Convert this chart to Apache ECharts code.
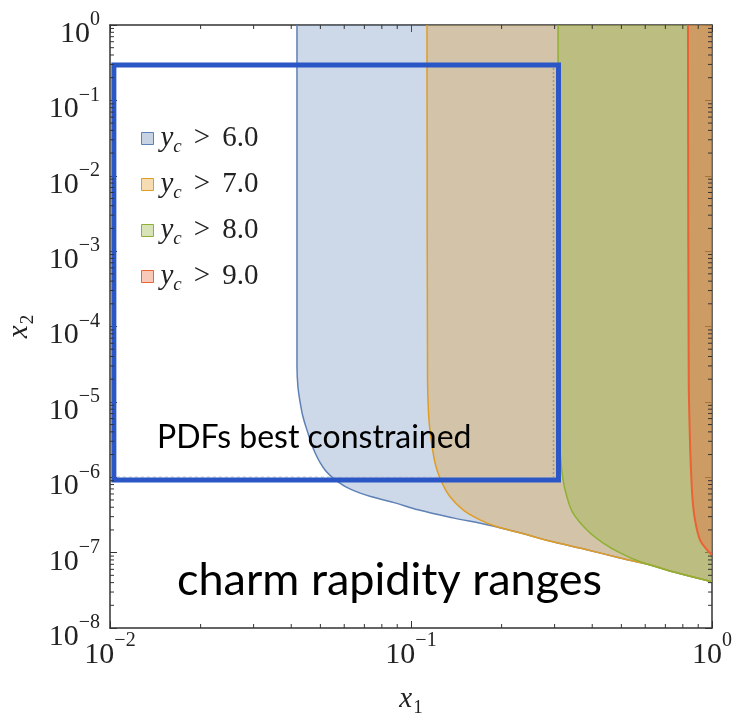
<!DOCTYPE html>
<html><head><meta charset="utf-8">
<script src="https://cdn.jsdelivr.net/npm/echarts@6/dist/echarts.min.js"></script>
<style>html,body{margin:0;padding:0;background:#fff}#c{width:734px;height:717px}</style>
</head><body><div id="c"></div>
<script>
// ---- data (x1, x2) ----
const seriesNames = ['y_c > 6.0', 'y_c > 7.0', 'y_c > 8.0', 'y_c > 9.0'];
const y6 = [[0.0418,1],[0.0418,3.0e-5],[0.0421,1.6e-5],[0.0428,1.0e-5],[0.0437,6.5e-6],[0.0451,4.25e-6],[0.0480,2.11e-6],[0.0518,1.25e-6],[0.0572,8.7e-7],[0.0637,6.8e-7],[0.0742,5.5e-7],[0.0885,4.57e-7],[0.1055,3.7e-7],[0.138,2.89e-7],[0.179,2.34e-7],[0.230,1.83e-7],[0.296,1.39e-7],[0.384,1.09e-7],[0.495,8.5e-8],[0.622,6.9e-8],[0.742,5.56e-8],[1,4.1e-8]];
const y7 = [[0.113,1],[0.1135,2.0e-5],[0.1142,8.0e-6],[0.1156,4.25e-6],[0.1202,1.55e-6],[0.1268,8.4e-7],[0.1348,5.5e-7],[0.1489,3.7e-7],[0.1695,2.72e-7],[0.193,2.2e-7],[0.230,1.83e-7],[0.296,1.39e-7],[0.384,1.09e-7],[0.495,8.5e-8],[0.622,6.9e-8],[0.742,5.56e-8],[1,4.1e-8]];
const y8 = [[0.308,1],[0.309,8.0e-6],[0.3126,2.31e-6],[0.320,9.2e-7],[0.330,5.4e-7],[0.345,3.37e-7],[0.384,2.0e-7],[0.434,1.35e-7],[0.495,9.9e-8],[0.577,7.55e-8],[0.742,5.56e-8],[1,4.1e-8]];
const y9 = [[0.832,1],[0.837,2.0e-5],[0.845,3.0e-6],[0.852,1.2e-6],[0.862,5.0e-7],[0.878,2.72e-7],[0.912,1.48e-7],[0.9625,1.09e-7],[1,9.3e-8]];
const xTickExps = [-2, -1, 0];
const yTickExps = [-8, -7, -6, -5, -4, -3, -2, -1, 0];
const minorMults = [2, 3, 4, 5, 6, 7, 8, 9];
const boxX1 = [0.0103, 0.309];
const boxX2 = [9.2e-7, 0.295];
const annotations = ['PDFs best constrained', 'charm rapidity ranges'];

// ---- styling ----
const lineColors = ['#5E81B5', '#E19C24', '#8FB032', '#EB6235'];
const fillColors = ['rgba(94,129,181,0.31)', 'rgba(225,156,36,0.32)', 'rgba(143,176,50,0.33)', 'rgba(235,98,53,0.36)'];
const legendFill = ['rgba(94,129,181,0.35)', 'rgba(225,156,36,0.35)', 'rgba(143,176,50,0.35)', 'rgba(235,98,53,0.35)'];
const SERIF = "'Liberation Serif','DejaVu Serif',serif";
const AX = '#333';
const TXT = '#222';

const xMin = Math.pow(10, xTickExps[0]), xMax = Math.pow(10, xTickExps[xTickExps.length - 1]);
const yMin = Math.pow(10, yTickExps[0]), yMax = Math.pow(10, yTickExps[yTickExps.length - 1]);

function powLabel(v) {
  const e = Math.round(Math.log10(v));
  return '{b|10}{s|' + (e < 0 ? '\u2212' + (-e) : e) + '}';
}
const powRich = {
  b: { fontFamily: SERIF, fontSize: 30, lineHeight: 30, padding: [9, 0, 9, 0], color: TXT, verticalAlign: 'top' },
  s: { fontFamily: SERIF, fontSize: 20, lineHeight: 20, color: TXT, verticalAlign: 'top' }
};
const subRich = {
  i: { fontFamily: SERIF, fontStyle: 'italic', fontSize: 29, lineHeight: 29, color: TXT, verticalAlign: 'top' },
  s: { fontFamily: SERIF, fontSize: 19, lineHeight: 19, padding: [14, 0, 0, 1], color: TXT, verticalAlign: 'top' }
};

const xMinorData = [], yMinorData = [];
xTickExps.slice(0, -1).forEach(e => minorMults.forEach(m => xMinorData.push([m * Math.pow(10, e), yMin])));
yTickExps.slice(0, -1).forEach(e => minorMults.forEach(m => yMinorData.push([xMin, m * Math.pow(10, e)])));

function tickLine(x1, y1, x2, y2) {
  return { type: 'line', shape: { x1, y1, x2, y2 }, style: { stroke: AX, lineWidth: 1 } };
}

function logAxis(pos, min, max, showLabel, extra) {
  return Object.assign({
    type: 'log', position: pos, min, max, interval: 1, logBase: 10,
    axisLine: { show: true, onZero: false, lineStyle: { color: AX, width: 1.5 } },
    axisTick: { show: true, inside: true, length: 7, lineStyle: { color: AX, width: 1 } },
    minorTick: { show: false },
    splitLine: { show: false },
    axisLabel: { show: showLabel, formatter: powLabel, rich: powRich, margin: 3 }
  }, extra || {});
}

const regionData = [y6, y7, y8, y9];
const regionSeries = regionData.map((d, i) => ({
  type: 'line', name: seriesNames[i], data: d, xAxisIndex: 0, yAxisIndex: 0,
  symbol: 'none', showSymbol: false, smooth: 0.35, silent: true, z: 2 + i,
  lineStyle: { color: lineColors[i], width: i === 3 ? 2 : 1.5 },
  itemStyle: { color: lineColors[i] },
  areaStyle: { color: fillColors[i], opacity: 1, origin: 'end' }
}));

const option = {
  animation: false,
  backgroundColor: '#fff',
  grid: { left: 110, top: 25, right: 22, bottom: 89, containLabel: false, outerBoundsMode: 'none' },
  xAxis: [
    logAxis('bottom', xMin, xMax, true, {
      name: '{i|x}{s|1}', nameLocation: 'middle', nameGap: 57,
      nameTextStyle: { rich: subRich }
    }),
    logAxis('top', xMin, xMax, false)
  ],
  yAxis: [
    logAxis('left', yMin, yMax, true, {
      axisLabel: { show: true, formatter: powLabel, rich: powRich, margin: 10 },
      name: '{i|x}{s|2}', nameLocation: 'middle', nameGap: 74, nameRotate: 90,
      nameTextStyle: { rich: subRich }
    }),
    logAxis('right', yMin, yMax, false)
  ],
  legend: {
    data: seriesNames.map((n, i) => ({ name: n, icon: 'rect', itemStyle: { color: legendFill[i], borderColor: lineColors[i], borderWidth: 1 } })),
    orient: 'vertical', left: 136, top: 119, itemWidth: 12, itemHeight: 12, itemGap: 14,
    selectedMode: false,
    formatter: n => '{i|y}{c|c}{g|>}{n|' + n.split('> ')[1] + '}',
    textStyle: { rich: {
      i: { fontFamily: SERIF, fontStyle: 'italic', fontSize: 29, lineHeight: 29, padding: [0, 0, 0, 2], color: TXT, verticalAlign: 'top' },
      c: { fontFamily: SERIF, fontStyle: 'italic', fontSize: 19, lineHeight: 19, padding: [13, 0, 0, 0], color: TXT, verticalAlign: 'top' },
      g: { fontFamily: SERIF, fontSize: 29, lineHeight: 29, padding: [0, 12, 0, 12], color: TXT, verticalAlign: 'top' },
      n: { fontFamily: SERIF, fontSize: 29, lineHeight: 29, color: TXT, verticalAlign: 'top' }
    } }
  },
  series: regionSeries.concat([
    {
      type: 'custom', name: 'box', xAxisIndex: 0, yAxisIndex: 0, z: 20, silent: true, clip: false,
      data: [[boxX1[0], boxX2[0], boxX1[1], boxX2[1]]],
      encode: { x: [0, 2], y: [1, 3] },
      renderItem: (params, api) => {
        const p0 = api.coord([api.value(0), api.value(1)]);
        const p1 = api.coord([api.value(2), api.value(3)]);
        return { type: 'group', children: [
          { type: 'line', shape: { x1: p1[0] - 5, y1: p1[1] + 3, x2: p1[0] - 5, y2: p0[1] - 3 }, style: { stroke: '#9a9a9a', lineWidth: 1.5, lineDash: [2, 2] } },
          { type: 'line', shape: { x1: p0[0] + 3, y1: p0[1] - 3, x2: p1[0] - 5, y2: p0[1] - 3 }, style: { stroke: '#c8c8c8', lineWidth: 1, lineDash: [3, 3] } },
          { type: 'rect', shape: { x: p0[0], y: p1[1], width: p1[0] - p0[0], height: p0[1] - p1[1] }, style: { fill: 'none', stroke: '#2a56c6', lineWidth: 5 } }
        ] };
      }
    },
    {
      type: 'custom', name: 'xminor', xAxisIndex: 0, yAxisIndex: 0, z: 30, silent: true, clip: false,
      data: xMinorData, encode: { x: 0, y: 1 },
      renderItem: (params, api) => {
        const cs = params.coordSys; const p = api.coord([api.value(0), api.value(1)]);
        return { type: 'group', children: [tickLine(p[0], cs.y + cs.height, p[0], cs.y + cs.height - 4), tickLine(p[0], cs.y, p[0], cs.y + 4)] };
      }
    },
    {
      type: 'custom', name: 'yminor', xAxisIndex: 0, yAxisIndex: 0, z: 30, silent: true, clip: false,
      data: yMinorData, encode: { x: 0, y: 1 },
      renderItem: (params, api) => {
        const cs = params.coordSys; const p = api.coord([api.value(0), api.value(1)]);
        return { type: 'group', children: [tickLine(cs.x, p[1], cs.x + 4, p[1]), tickLine(cs.x + cs.width, p[1], cs.x + cs.width - 4, p[1])] };
      }
    }
  ]),
  graphic: [
    { type: 'text', x: 157, y: 438, z: 100, style: { text: annotations[0], fontFamily: 'Lato', fontSize: 32, fill: '#000', verticalAlign: 'middle', align: 'left' } },
    { type: 'text', x: 177, y: 580, z: 100, style: { text: annotations[1], fontFamily: 'Lato', fontSize: 45, fill: '#000', verticalAlign: 'middle', align: 'left' } }
  ]
};

const chart = echarts.init(document.getElementById('c'), null, { renderer: 'canvas' });
chart.setOption(option);
</script>
</body></html>
